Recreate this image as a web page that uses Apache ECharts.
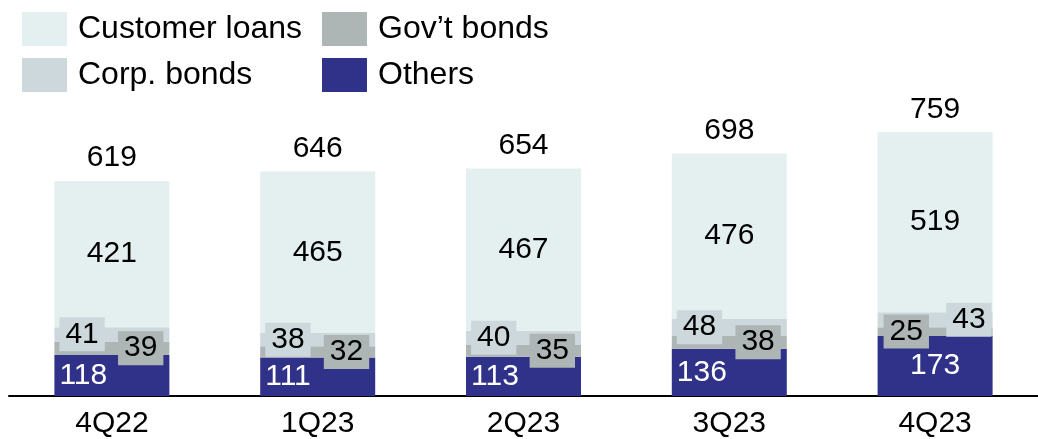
<!DOCTYPE html>
<html>
<head>
<meta charset="utf-8">
<script src="https://cdn.jsdelivr.net/npm/echarts@6/dist/echarts.min.js"></script>
<style>
  html, body { margin: 0; padding: 0; background: #ffffff; }
  #chart { width: 1038px; height: 439px; }
</style>
</head>
<body>
<div id="chart"></div>
<script>
// Quarterly balance breakdown
const categories = ['4Q22', '1Q23', '2Q23', '3Q23', '4Q23'];
const others = [118, 111, 113, 136, 173];
const govBonds = [39, 32, 35, 38, 25];
const corpBonds = [41, 38, 40, 48, 43];
const customerLoans = [421, 465, 467, 476, 519];
const totals = [619, 646, 654, 698, 759];

const FONT = "'Liberation Sans', Arial, Helvetica, sans-serif";
const COLORS = {
  loans: '#E4F0F0',
  corp: '#CCD8DC',
  gov: '#AEB5B5',
  others: '#303189'
};
const last = categories.length - 1;

// small-segment labels sit on coloured tags, left/right so they don't collide
function tagged(values, color, posFn, distFn) {
  return values.map((v, i) => ({
    value: v,
    label: {
      show: true,
      position: posFn(i),
      distance: distFn(i),
      color: '#000',
      fontSize: 30,
      fontFamily: FONT,
      backgroundColor: color,
      padding: [2, 6, 2, 6]
    }
  }));
}

const chart = echarts.init(document.getElementById('chart'));

function legendFor(name, left, top) {
  return {
    data: [name],
    left: left,
    top: top,
    padding: 0,
    icon: 'rect',
    itemWidth: 45,
    itemHeight: 34,
    selectedMode: false,
    textStyle: {
      fontSize: 32,
      fontFamily: FONT,
      color: '#000',
      padding: [0, 0, 0, 6]
    }
  };
}

chart.setOption({
  animation: false,
  backgroundColor: '#ffffff',
  legend: [
    legendFor('Customer loans', 22, 12),
    legendFor('Gov\u2019t bonds', 322, 12),
    legendFor('Corp. bonds', 22, 58),
    legendFor('Others', 322, 58)
  ],
  grid: { left: 9, right: -6, top: 48.6, bottom: 39, containLabel: false },
  xAxis: {
    type: 'category',
    data: categories,
    axisLine: { lineStyle: { color: '#000', width: 2 } },
    axisTick: { show: false },
    axisLabel: { color: '#000', fontSize: 30, fontFamily: FONT, margin: 13 }
  },
  yAxis: {
    type: 'value',
    min: 0,
    max: 1000,
    show: false,
    splitLine: { show: false }
  },
  series: [
    {
      name: 'Others',
      type: 'bar',
      stack: 'total',
      barWidth: 115,
      itemStyle: { color: COLORS.others },
      data: others.map((v, i) => ({
        value: v,
        label: {
          show: true,
          position: i === last ? 'inside' : 'insideLeft',
          distance: 5,
          color: '#fff',
          fontSize: 30,
          fontFamily: FONT
        }
      }))
    },
    {
      name: 'Gov\u2019t bonds',
      type: 'bar',
      stack: 'total',
      barWidth: 115,
      itemStyle: { color: COLORS.gov },
      data: tagged(govBonds, COLORS.gov,
        i => (i === last ? 'insideLeft' : 'insideRight'),
        () => 6)
    },
    {
      name: 'Corp. bonds',
      type: 'bar',
      stack: 'total',
      barWidth: 115,
      itemStyle: { color: COLORS.corp },
      data: tagged(corpBonds, COLORS.corp,
        i => (i === last ? 'insideRight' : 'insideLeft'),
        i => (i === last ? 1 : 5))
    },
    {
      name: 'Customer loans',
      type: 'bar',
      stack: 'total',
      barWidth: 115,
      itemStyle: { color: COLORS.loans },
      label: {
        show: true,
        position: 'inside',
        color: '#000',
        fontSize: 30,
        fontFamily: FONT
      },
      data: customerLoans
    },
    {
      // column totals, printed above each stack
      name: 'Total',
      type: 'scatter',
      symbolSize: 0,
      silent: true,
      itemStyle: { color: '#000', opacity: 1 },
      label: {
        show: true,
        position: 'top',
        distance: 8,
        color: '#000',
        fontSize: 30,
        fontFamily: FONT
      },
      data: totals
    }
  ]
});
</script>
</body>
</html>
